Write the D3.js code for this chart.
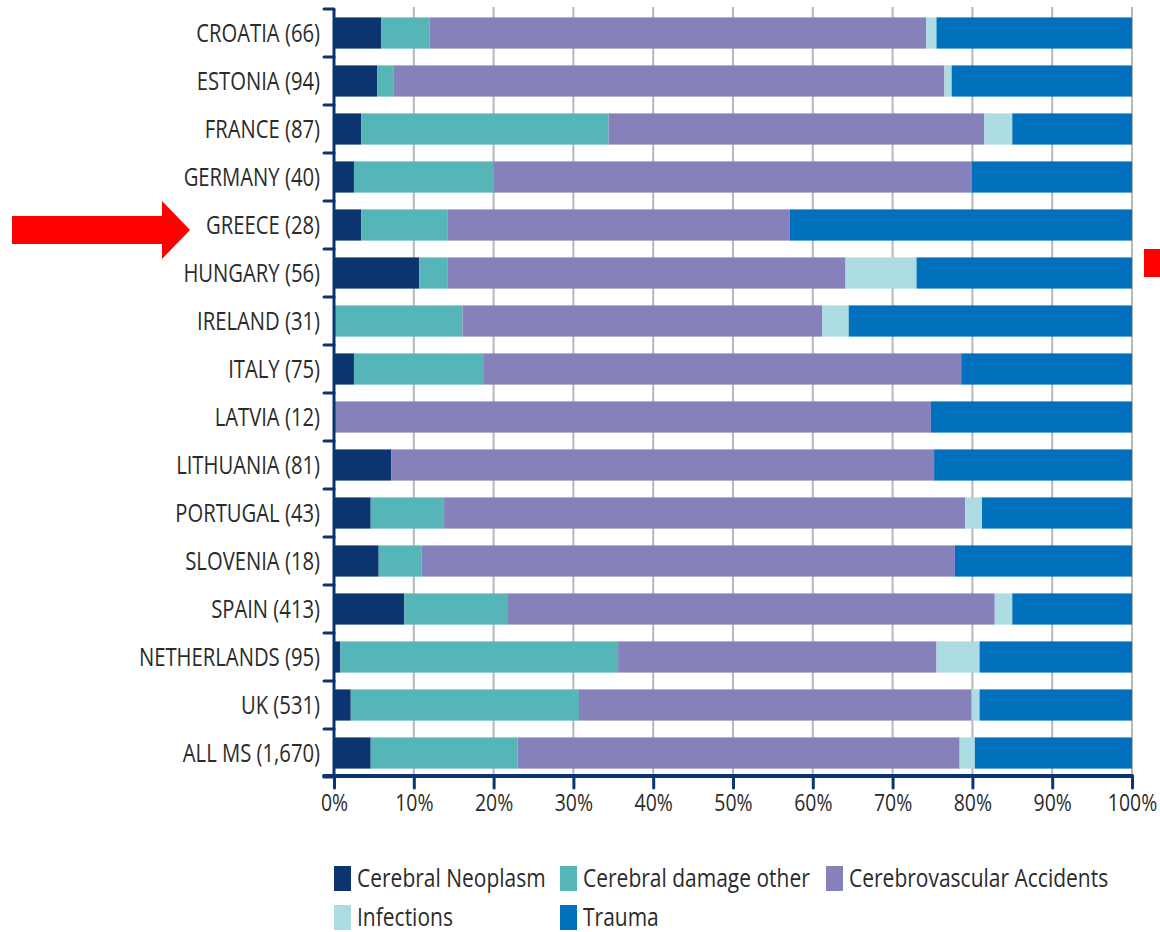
<!DOCTYPE html>
<html>
<head>
<meta charset="utf-8">
<script src="https://cdn.jsdelivr.net/npm/d3@7"></script>
<style>
  body { margin: 0; background: #fff; }
  text { font-family: "Open Sans", sans-serif; fill: #2b2b2b; }
</style>
</head>
<body>
<script>
//countries with number of cases
var countries = ["CROATIA (66)", "ESTONIA (94)", "FRANCE (87)", "GERMANY (40)", "GREECE (28)",
    "HUNGARY (56)", "IRELAND (31)", "ITALY (75)", "LATVIA (12)", "LITHUANIA (81)",
    "PORTUGAL (43)", "SLOVENIA (18)", "SPAIN (413)", "NETHERLANDS (95)", "UK (531)", "ALL MS (1,670)"];

var seriesNames = ["Cerebral Neoplasm", "Cerebral damage other", "Cerebrovascular Accidents", "Infections", "Trauma"];

//share of each cause, percent
var neoplasm   = [5.9, 5.4, 3.4, 2.5, 3.4, 10.7, 0, 2.5, 0, 7.2, 4.6, 5.6, 8.8, 0.8, 2.1, 4.6];
var damage     = [6.1, 2.1, 31.0, 17.5, 10.8, 3.5, 16.1, 16.2, 0, 0, 9.2, 5.4, 13.0, 34.8, 28.6, 18.4];
var vascular   = [62.2, 69.0, 47.1, 59.9, 42.9, 49.9, 45.1, 59.9, 74.8, 68.0, 65.3, 66.8, 61.0, 39.9, 49.2, 55.4];
var infections = [1.3, 0.9, 3.5, 0, 0, 8.9, 3.3, 0, 0, 0, 2.1, 0, 2.2, 5.4, 1.0, 1.9];
var trauma     = [24.5, 22.6, 15.0, 20.1, 42.9, 27.0, 35.5, 21.4, 25.2, 24.8, 18.8, 22.2, 15.0, 19.1, 19.1, 19.7];

var xTicks = [0, 10, 20, 30, 40, 50, 60, 70, 80, 90, 100];

var colors = ["#0b3470", "#56b5b7", "#8680bb", "#acdbe1", "#0170bd"];

setChart();

function setChart(){

    var width = 1160,
        height = 932;

    var svg = d3.select("body")
        .append("svg")
        .attr("width", width)
        .attr("height", height);

    //build table for the stack
    var table = countries.map(function(c, i){
        return {country: c, s0: neoplasm[i], s1: damage[i], s2: vascular[i], s3: infections[i], s4: trauma[i]};
    });

    var stack = d3.stack().keys(["s0", "s1", "s2", "s3", "s4"]);
    var layers = stack(table);

    var x = d3.scaleLinear()
        .domain([0, 100])
        .range([334, 1132]);

    var y = d3.scaleBand()
        .domain(countries)
        .range([9, 777])
        .paddingInner(0.35)
        .paddingOuter(0.175);

    var sx = 0.81; //text looks horizontally squeezed

    //vertical gridlines
    svg.selectAll(".grid")
        .data(xTicks.slice(1))
        .enter()
        .append("line")
        .attr("class", "grid")
        .attr("x1", function(d){ return x(d); })
        .attr("x2", function(d){ return x(d); })
        .attr("y1", 7)
        .attr("y2", 777)
        .attr("stroke", "#b8b8b8")
        .attr("stroke-width", 2);

    //stacked bars
    var groups = svg.selectAll(".layer")
        .data(layers)
        .enter()
        .append("g")
        .attr("class", "layer")
        .attr("fill", function(d, i){ return colors[i]; });

    groups.selectAll("rect")
        .data(function(d){ return d; })
        .enter()
        .append("rect")
        .attr("x", function(d){ return x(d[0]); })
        .attr("y", function(d){ return y(d.data.country); })
        .attr("width", function(d){ return x(d[1]) - x(d[0]); })
        .attr("height", y.bandwidth());

    //y axis line with ticks at band boundaries
    var bounds = d3.range(countries.length + 1).map(function(i){ return y.range()[0] + i * y.step(); });

    svg.append("line")
        .attr("x1", x(0)).attr("x2", x(0))
        .attr("y1", bounds[0]).attr("y2", bounds[bounds.length - 1])
        .attr("stroke", "#0b3470")
        .attr("stroke-width", 3);

    svg.selectAll(".ytick")
        .data(bounds)
        .enter()
        .append("line")
        .attr("class", "ytick")
        .attr("x1", x(0) - 10).attr("x2", x(0))
        .attr("y1", function(d){ return d; })
        .attr("y2", function(d){ return d; })
        .attr("stroke", "#0b3470")
        .attr("stroke-width", 3)
        .attr("stroke-linecap", "round");

    //country labels
    svg.selectAll(".ylabel")
        .data(countries)
        .enter()
        .append("text")
        .attr("class", "ylabel")
        .attr("transform", function(d){
            return "translate(320," + (y(d) + y.bandwidth() / 2) + ") scale(" + sx + ",1)";
        })
        .attr("text-anchor", "end")
        .attr("dy", "0.35em")
        .style("font-size", "25px")
        .text(function(d){ return d; });

    //x axis
    var xAxis = d3.axisBottom(x)
        .tickValues(xTicks)
        .tickSize(12)
        .tickFormat(function(d){ return d + "%"; });

    var gx = svg.append("g")
        .attr("transform", "translate(0,776)")
        .call(xAxis);

    gx.select(".domain").remove();
    gx.selectAll(".tick line")
        .attr("stroke", "#0b3470")
        .attr("stroke-width", 3)
        .attr("stroke-linecap", "round");
    gx.selectAll(".tick text")
        .attr("y", 35)
        .attr("dy", 0)
        .attr("transform", "scale(" + sx + ",1)")
        .style("font-size", "24px")
        .style("font-family", "'Open Sans', sans-serif")
        .attr("fill", "#333");

    gx.append("line")
        .attr("x1", 324).attr("x2", x(100))
        .attr("y1", 0).attr("y2", 0)
        .attr("stroke", "#0b3470")
        .attr("stroke-width", 4)
        .attr("stroke-linecap", "round");

    //legend
    var legendPos = [[334, 878], [560, 878], [826, 878], [334, 917], [560, 917]];

    var legend = svg.selectAll(".legend")
        .data(seriesNames)
        .enter()
        .append("g")
        .attr("class", "legend")
        .attr("transform", function(d, i){ return "translate(" + legendPos[i][0] + "," + legendPos[i][1] + ")"; });

    legend.append("rect")
        .attr("x", 0)
        .attr("y", -12)
        .attr("width", 17)
        .attr("height", 25)
        .attr("fill", function(d, i){ return colors[i]; });

    legend.append("text")
        .attr("transform", "translate(23,0) scale(0.84,1)")
        .attr("dy", "0.35em")
        .style("font-size", "25px")
        .text(function(d){ return d; });

    //red arrow pointing at Greece
    svg.append("path")
        .attr("d", "M12,216 L162,216 L162,201 L190,230 L162,259 L162,244 L12,244 Z")
        .attr("fill", "#ff0000");

    //red mark on the right
    svg.append("rect")
        .attr("x", 1144)
        .attr("y", 249)
        .attr("width", 16)
        .attr("height", 28)
        .attr("fill", "#ff0000");
}
</script>
</body>
</html>
